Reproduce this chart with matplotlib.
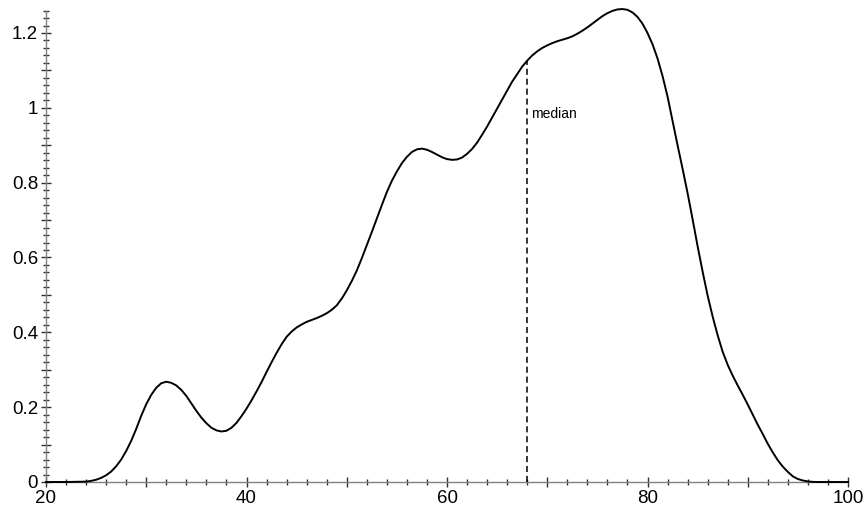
import numpy as np
import matplotlib.pyplot as plt
from matplotlib.ticker import MultipleLocator, FuncFormatter

# density curve (x, density)
x_vals = [20, 22, 24, 24.5, 25, 25.5, 26, 26.5, 27, 27.5, 28, 28.5, 29, 29.5,
          30, 30.5, 31, 31.5, 32, 32.5, 33, 33.5, 34, 34.5, 35, 35.5, 36, 36.5,
          37, 37.5, 38, 38.5, 39, 39.5, 40, 40.5, 41, 41.5, 42, 42.5, 43, 43.5,
          44, 44.5, 45, 45.5, 46, 46.5, 47, 47.5, 48, 48.5, 49, 49.5, 50, 50.5,
          51, 51.5, 52, 52.5, 53, 53.5, 54, 54.5, 55, 55.5, 56, 56.5, 57, 57.5,
          58, 58.5, 59, 59.5, 60, 60.5, 61, 61.5, 62, 62.5, 63, 63.5, 64, 64.5,
          65, 65.5, 66, 66.5, 67, 67.5, 68, 68.5, 69, 69.5, 70, 70.5, 71, 71.5,
          72, 72.5, 73, 73.5, 74, 74.5, 75, 75.5, 76, 76.5, 77, 77.5, 78, 78.5,
          79, 79.5, 80, 80.5, 81, 81.5, 82, 82.5, 83, 83.5, 84, 84.5, 85, 85.5,
          86, 86.5, 87, 87.5, 88, 88.5, 89, 89.5, 90, 90.5, 91, 91.5, 92, 92.5,
          93, 93.5, 94, 94.5, 95, 95.5, 96, 96.5, 97, 100]
density = [0, 0, 0.001, 0.003, 0.006, 0.011, 0.018, 0.028, 0.042, 0.06, 0.083,
           0.11, 0.142, 0.177, 0.208, 0.233, 0.252, 0.264, 0.268, 0.265, 0.258,
           0.246, 0.23, 0.21, 0.19, 0.172, 0.157, 0.145, 0.138, 0.135, 0.137,
           0.145, 0.158, 0.176, 0.196, 0.218, 0.242, 0.267, 0.294, 0.32, 0.345,
           0.368, 0.388, 0.402, 0.413, 0.421, 0.428, 0.433, 0.438, 0.444, 0.451,
           0.46, 0.472, 0.49, 0.512, 0.537, 0.565, 0.598, 0.633, 0.668, 0.704,
           0.74, 0.775, 0.805, 0.83, 0.852, 0.869, 0.882, 0.889, 0.891, 0.888,
           0.882, 0.875, 0.868, 0.863, 0.861, 0.862, 0.867, 0.877, 0.89, 0.907,
           0.928, 0.95, 0.974, 0.998, 1.022, 1.046, 1.07, 1.09, 1.11, 1.126,
           1.14, 1.151, 1.16, 1.167, 1.173, 1.178, 1.182, 1.186, 1.191, 1.198,
           1.206, 1.215, 1.225, 1.235, 1.245, 1.253, 1.259, 1.263, 1.264, 1.262,
           1.255, 1.243, 1.225, 1.2, 1.17, 1.132, 1.085, 1.03, 0.965, 0.9,
           0.837, 0.772, 0.702, 0.63, 0.562, 0.498, 0.442, 0.392, 0.348, 0.313,
           0.284, 0.258, 0.233, 0.207, 0.18, 0.153, 0.128, 0.102, 0.079, 0.058,
           0.041, 0.027, 0.015, 0.008, 0.004, 0.0015, 0.0003, 0, 0]

median_x = 68
median_y = 1.126
median_label = "median"

plt.rcParams['font.family'] = ['Liberation Sans', 'DejaVu Sans']

fig = plt.figure(figsize=(8.65, 5.08), dpi=100)
ax = fig.add_axes([46 / 865, 26 / 508, 802 / 865, 1.26 * 374.17 / 508])

ax.plot(x_vals, density, color='black', lw=1.4, zorder=5, clip_on=False,
        solid_joinstyle='round')
ax.plot([median_x, median_x], [0, median_y], color='black', lw=1.1,
        linestyle=(0, (4, 2.5)), zorder=4)
ax.text(median_x + 0.35, 0.984, median_label, fontsize=10, va='center', ha='left')

ax.set_xlim(20, 100)
ax.set_ylim(0, 1.26)

for s in ['top', 'right']:
    ax.spines[s].set_visible(False)
for s in ['left', 'bottom']:
    ax.spines[s].set_color('#808080')
    ax.spines[s].set_linewidth(1.0)

ax.xaxis.set_major_locator(MultipleLocator(10))
ax.xaxis.set_minor_locator(MultipleLocator(2))
ax.yaxis.set_major_locator(MultipleLocator(0.1))
ax.yaxis.set_minor_locator(MultipleLocator(0.02))

def xfmt(v, pos):
    return f"{int(round(v))}" if round(v) % 20 == 0 else ""

def yfmt(v, pos):
    k = int(round(v * 10))
    if k % 2:
        return ""
    return f"{v:g}" if k else "0"

ax.xaxis.set_major_formatter(FuncFormatter(xfmt))
ax.yaxis.set_major_formatter(FuncFormatter(yfmt))

ax.tick_params(which='major', direction='inout', length=7.2, width=1.0,
               color='#303030', labelsize=13.5, pad=2)
ax.tick_params(which='minor', direction='inout', length=4.3, width=1.0,
               color='#303030')

fig.savefig('out.png', dpi=100)
plt.close(fig)
